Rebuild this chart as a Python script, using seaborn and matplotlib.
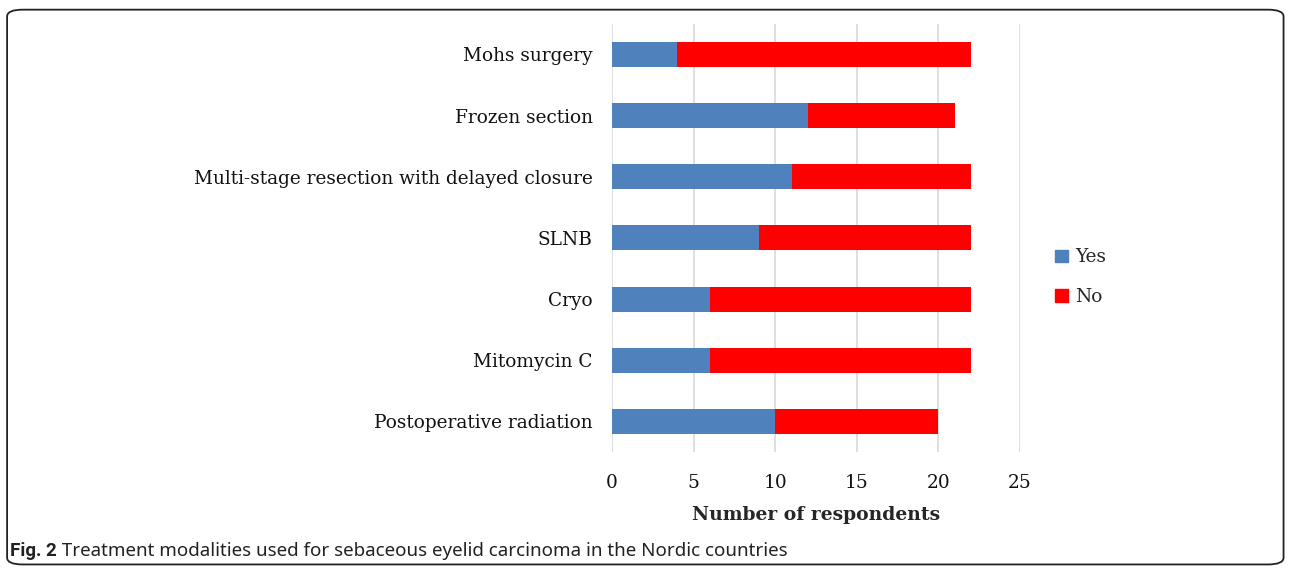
import pandas as pd
import matplotlib.pyplot as plt
import seaborn as sns
from matplotlib.patches import FancyBboxPatch, Patch

# dados
categorias = ["Mohs surgery", "Frozen section", "Multi-stage resection with delayed closure",
              "SLNB", "Cryo", "Mitomycin C", "Postoperative radiation"]
sim = [4, 12, 11, 9, 6, 6, 10]
nao = [18, 9, 11, 13, 16, 16, 10]

COR_SIM = "#4F81BD"
COR_NAO = "#FF0000"

df = pd.DataFrame({"Modalidade": categorias, "Yes": sim, "No": nao})
df["Total"] = df["Yes"] + df["No"]

sns.set_theme(style="white")
plt.rcParams["font.family"] = ["DejaVu Serif"]

fig = plt.figure(figsize=(12.9, 5.69), dpi=100)
ax = fig.add_axes([0.4744, 0.2056, 0.3163, 0.7524])

# barras empilhadas: total (No) por baixo, Yes por cima
sns.barplot(data=df, x="Total", y="Modalidade", color=COR_NAO, width=0.41,
            saturation=1, linewidth=0, ax=ax, zorder=2)
sns.barplot(data=df, x="Yes", y="Modalidade", color=COR_SIM, width=0.41,
            saturation=1, linewidth=0, ax=ax, zorder=3)

ax.set_xlim(0, 25)
ax.set_xticks([0, 5, 10, 15, 20, 25])
ax.xaxis.grid(True, color="#D9D9D9", linewidth=1.2)
ax.yaxis.grid(False)
ax.set_axisbelow(True)
for s in ax.spines.values():
    s.set_visible(False)
ax.tick_params(axis="y", length=0, pad=14, labelsize=13.3, labelcolor="#111111")
ax.tick_params(axis="x", length=0, pad=16, labelsize=13.3, labelcolor="#111111")
ax.set_ylabel("")
ax.set_xlabel("Number of respondents", fontsize=13.5, fontweight="bold", labelpad=10)

handles = [Patch(color=COR_SIM, label="Yes"), Patch(color=COR_NAO, label="No")]
fig.legend(handles=handles, loc="center left", bbox_to_anchor=(0.805, 0.513),
           frameon=False, fontsize=13.3, handlelength=0.7, handleheight=0.7,
           handletextpad=0.4, labelspacing=1.15)

# legenda da figura
t1 = fig.text(0.008, 0.022, "Fig. 2", fontsize=13.5, fontweight="bold",
              family=["Roboto", "DejaVu Sans"], color="#222222")
fig.texts.append(plt.Annotation(" Treatment modalities used for sebaceous eyelid carcinoma in the Nordic countries",
                                xy=(1, 0), xycoords=t1, va="bottom", ha="left",
                                fontsize=13.5, family=["Noto Sans", "DejaVu Sans"],
                                color="#222222"))
fig.texts[-1].set_figure(fig)

# moldura arredondada
moldura = FancyBboxPatch((0.0055, 0.008), 0.9895, 0.975,
                         boxstyle="round,pad=0,rounding_size=0.012",
                         transform=fig.transFigure, fill=False,
                         edgecolor="#222222", linewidth=1.3)
fig.patches.append(moldura)

fig.savefig("out.png", dpi=100)
